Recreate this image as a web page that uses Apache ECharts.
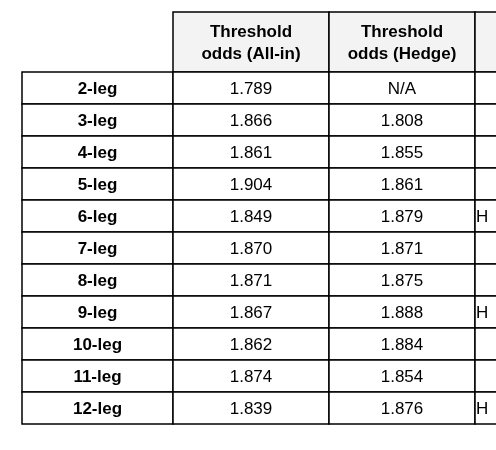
<!DOCTYPE html>
<html><head><meta charset="utf-8">
<script src="https://cdn.jsdelivr.net/npm/echarts@6/dist/echarts.min.js"></script>
<style>html,body{margin:0;padding:0;background:#fff}#c{width:496px;height:450px}</style>
</head><body><div id="c"></div>
<script>
const headers = ["", "Threshold\nodds (All-in)", "Threshold\nodds (Hedge)", ""];
const legs = ["2-leg","3-leg","4-leg","5-leg","6-leg","7-leg","8-leg","9-leg","10-leg","11-leg","12-leg"];
const allIn = ["1.789","1.866","1.861","1.904","1.849","1.870","1.871","1.867","1.862","1.874","1.839"];
const hedge = ["N/A","1.808","1.855","1.861","1.879","1.871","1.875","1.888","1.884","1.854","1.876"];
const extra = ["","","","","H","","","H","","","H"];

const colEdges = [22,173,329,475,640];
const headTop = 12, headBot = 72, rowH = 32;

const cells = [];
headers.forEach((h,c)=>cells.push([c,0,h]));
legs.forEach((l,r)=>{
  cells.push([0,r+1,l]); cells.push([1,r+1,allIn[r]]);
  cells.push([2,r+1,hedge[r]]); cells.push([3,r+1,extra[r]]);
});

function renderItem(params, api){
  const c = api.value(0), r = api.value(1), txt = cells[params.dataIndex][2];
  const y0 = r===0 ? headTop : headBot + (r-1)*rowH;
  const y1 = r===0 ? headBot : y0 + rowH;
  const p0 = api.coord([colEdges[c], y0]), p1 = api.coord([colEdges[c+1], y1]);
  const x=p0[0], y=p0[1], w=p1[0]-p0[0], h=p1[1]-p0[1];
  const children = [];
  if(!(r===0 && c===0)){
    children.push({type:'rect', shape:{x,y,width:w,height:h},
      style:{fill: r===0 ? '#f3f3f3' : '#fff', stroke:'#000', lineWidth:1.5}});
  }
  const bold = r===0 || c===0;
  children.push({type:'text', style:{
    text: txt, x: c===3 ? x+1 : x+w/2, y: y+h/2+1,
    align: c===3 ? 'left' : 'center', verticalAlign:'middle',
    font: (bold?'bold ':'') + '17px "Liberation Sans", Arial, sans-serif',
    lineHeight: 22, fill:'#000'}});
  return {type:'group', children};
}

const chart = echarts.init(document.getElementById('c'));
chart.setOption({
  animation:false,
  grid:{left:0,right:0,top:0,bottom:0},
  xAxis:{type:'value',min:0,max:496,show:false},
  yAxis:{type:'value',min:0,max:450,inverse:true,show:false},
  series:[{type:'custom', renderItem, data: cells.map(d=>[d[0],d[1]]), clip:false}]
});
</script></body></html>
